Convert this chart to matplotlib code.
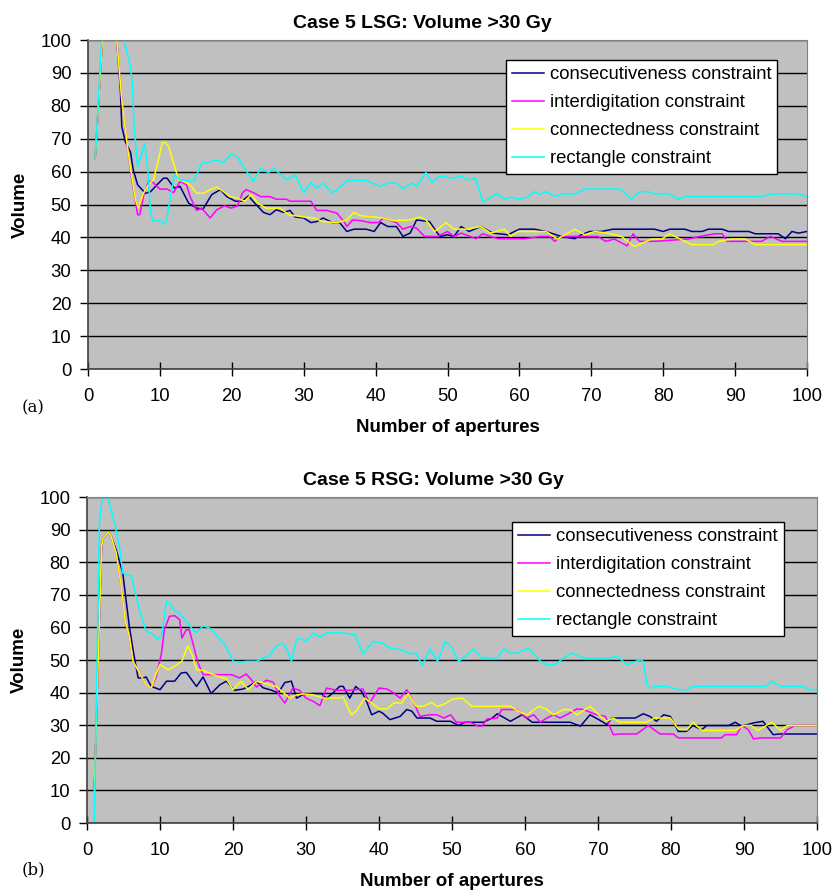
import matplotlib
matplotlib.use("Agg")
import matplotlib.pyplot as plt
from matplotlib.ticker import MultipleLocator

plt.rcParams['font.family'] = ['Liberation Sans', 'DejaVu Sans']

# ---------------- data: (a) Case 5 LSG ----------------
a_cons_x = [1, 2, 3, 4, 4.5, 4.7, 5.2, 5.9, 6.3, 6.9, 8, 8.7, 9.6, 10.5, 11, 12, 12.8, 13.3, 14, 15.1, 16,
            17.2, 18.4, 19.3, 20.5, 21.4, 22.3, 23.2, 24.4, 25.3, 26.2, 27.2, 28.1, 28.8, 30, 31, 31.8, 32.7,
            34, 35, 36, 37, 38.7, 39.8, 40.7, 41.7, 42.9, 43.8, 44.8, 45.7, 47.5, 48.6, 49, 50, 50.9, 51.9,
            53, 54.6, 56.3, 58.4, 60, 62.1, 63.7, 65.8, 67.7, 68.6, 69.8, 71.4, 73, 78.8, 80, 80.9, 83, 84,
            85.4, 86.3, 88.2, 89.1, 91.9, 92.8, 96, 97, 97.9, 98.8, 100]
a_cons_y = [64, 100, 100, 100, 85, 73.7, 69, 66, 60.5, 56, 53.4, 53.9, 56, 58, 58, 55, 55.5, 53.4, 50.4, 48.9,
            48.6, 53, 54.5, 52.4, 51, 51, 52.6, 50.4, 47.6, 46.9, 48.4, 47.6, 48.2, 46.2, 45.9, 44.5, 44.8,
            45.9, 44.5, 44.5, 41.8, 42.5, 42.5, 41.8, 44.5, 43.3, 43.3, 40.3, 41.3, 45.3, 44.8, 41.3, 40.3,
            40.8, 40.3, 43.3, 41.8, 43.3, 41.3, 40.8, 42.5, 42.5, 41.8, 40.3, 39.6, 40.8, 41.8, 41.8, 42.5,
            42.5, 41.8, 42.5, 42.5, 41.8, 41.8, 42.5, 42.5, 41.8, 41.8, 41.1, 41.1, 39.6, 41.8, 41.3, 41.8]

a_inter_x = [1, 2, 3, 4, 4.7, 5.4, 6.1, 6.9, 7.2, 7.7, 8.4, 8.9, 10, 11, 11.9, 12.8, 13.7, 14.2, 15.1, 15.8,
             17, 17.9, 19, 19.9, 20.8, 21.5, 22, 23, 24, 25.3, 26.2, 27.6, 28.1, 31, 31.8, 33.2, 34.6, 35.6,
             36, 36.8, 37.9, 39.3, 40.4, 41.1, 42.9, 43.8, 44.8, 45.7, 46.8, 48.6, 50, 50.9, 51.9, 54, 54.9,
             57, 59.1, 60.7, 63, 64.2, 64.9, 65.8, 70.9, 72, 73.2, 75, 75.8, 76.7, 78.8, 83.5, 85.1, 87.2,
             88.2, 88.9, 93.7, 94.9, 96.5, 100]
a_inter_y = [64, 100, 100, 100, 81.8, 68.6, 57.5, 46.9, 46.9, 52.4, 57, 57, 54.7, 54.7, 53.6, 57, 56, 52.4,
             48.2, 48.9, 45.9, 48.4, 49.6, 48.9, 49.6, 53.6, 54.5, 53.6, 52.4, 52.4, 51.6, 51.6, 51, 51, 48.2,
             48.2, 47.4, 44.8, 43.3, 45.3, 45.1, 44.5, 44.5, 45.9, 44.5, 42.5, 43.3, 42.8, 40.3, 40.3, 41.8,
             40.3, 41.3, 39.6, 41.1, 39.6, 39.6, 39.6, 40.3, 40.3, 38.8, 40.3, 40.3, 38.8, 39.5, 37.4, 41.1,
             38.8, 38.8, 39.5, 40.3, 41.1, 41.1, 38.8, 38.8, 40.3, 38.8, 38.8]

a_conn_x = [1, 2, 3, 4, 4.7, 5.6, 6.6, 7, 7.7, 8.4, 9.1, 9.8, 10.3, 10.7, 11.2, 11.9, 12.6, 13.3, 14.2, 15.1,
            16, 17, 17.9, 18.8, 19.7, 20.7, 21.8, 22.7, 23.6, 24.8, 26.7, 27.9, 30, 31.4, 32.7, 34.6, 36, 37,
            37.9, 39.8, 41.1, 42.4, 44.8, 46.2, 47, 48.2, 49.8, 50.9, 52.8, 54.6, 56, 57.9, 58.8, 59.8, 63.7,
            65.3, 67.7, 69.1, 70.5, 72.3, 74.2, 76, 78.4, 79.8, 80.9, 83, 84, 87, 87.7, 89.5, 91.4, 92.8, 100]
a_conn_y = [64, 100, 100, 100, 81.8, 65.6, 51.4, 48.9, 53.4, 56, 57.5, 63.6, 68.6, 69, 67.7, 62.6, 57.5, 57,
            56, 53.4, 53.4, 54.5, 55.3, 54, 52.4, 52, 51, 53, 50.4, 48.9, 48.9, 46.9, 46.2, 45.9, 44.8, 44.5,
            45.3, 47.6, 46.6, 46.2, 45.9, 45.1, 45.3, 46.2, 45.3, 41.8, 44.5, 42.5, 42.5, 43.3, 41.3, 42.5,
            40.3, 41.8, 41.8, 39.5, 42.5, 40.8, 41.8, 41.3, 40.3, 37.2, 39.5, 39.5, 41.1, 38.8, 37.8, 37.8,
            38.8, 39.5, 39.5, 37.8, 37.8]

a_rect_x = [1, 1.9, 3, 4, 5, 5.9, 6.2, 6.4, 6.9, 7.9, 8.2, 8.7, 9, 10, 10.7, 11, 12, 12.8, 14.7, 15.8, 17,
            17.9, 18.8, 19.9, 20.7, 23, 24, 25.1, 25.8, 27.6, 28.8, 30, 31, 31.8, 32.7, 33.9, 34.6, 36, 38.7,
            40.6, 41.7, 42.9, 43.8, 45, 45.7, 47, 47.8, 48.9, 50.9, 51.9, 52.8, 53.9, 54.9, 55.6, 56.9, 57.9,
            58.8, 60, 61.2, 62.1, 62.8, 63.7, 64.9, 65.8, 67.7, 69.1, 74, 75.6, 76.7, 77.9, 78.8, 80.9, 82.1,
            83, 93.7, 95.1, 98.8, 100]
a_rect_y = [64, 100, 100, 100, 100, 92, 86, 74, 61.5, 68.6, 63.6, 48, 45, 45, 44, 46.2, 59, 57.5, 57, 62.5,
            63, 63.5, 62.7, 65.4, 64.6, 57, 61, 59.7, 61, 57.5, 59, 53.6, 56.7, 55, 56.5, 53.6, 54.4, 57.3,
            57.3, 55.5, 56.5, 56.5, 54.8, 56.5, 55.5, 59.7, 56.7, 58.7, 58, 58.7, 57.5, 58, 50.9, 51.6, 53.4,
            51.6, 52.2, 51.6, 52.4, 53.9, 53.1, 53.9, 52.4, 53.2, 53.2, 54.7, 54.7, 51.6, 53.9, 53.9, 53.2,
            53.2, 51.6, 52.4, 52.4, 53.2, 53.2, 52.4]

# ---------------- data: (b) Case 5 RSG ----------------
b_cons_x = [1, 2, 2.2, 2.9, 3.3, 4, 4.5, 4.9, 5.4, 5.8, 6.3, 7, 7.7, 8.1, 8.8, 10, 10.9, 12, 12.9, 13.6, 15,
            15.9, 17, 18.2, 19.1, 20.2, 21.4, 22.3, 23.2, 24.1, 25.3, 26.2, 27.1, 28, 28.7, 29.6, 31, 32.1,
            32.8, 33.7, 34.6, 35.1, 36, 36.8, 37.6, 38.3, 39, 40, 40.5, 41.5, 42.9, 43.8, 44.5, 45.2, 47,
            47.9, 49.8, 50.9, 51.8, 54.3, 55.5, 56.2, 58, 59.6, 61, 66.2, 67.6, 68.9, 70.5, 71.2, 71.9, 75.1,
            76.2, 77.1, 78, 79, 79.9, 81, 82.1, 83, 84.2, 84.9, 87.9, 88.8, 89.7, 91.3, 92.6, 94, 94.9, 100]
b_cons_y = [10, 84.9, 87.4, 89.2, 88, 83.8, 79.8, 76.7, 67.5, 60.3, 53.2, 44.5, 44.5, 44.8, 41.9, 40.9, 43.5,
            43.5, 46, 46.2, 41.9, 44.8, 39.7, 42.4, 43.5, 40.7, 41.1, 42.1, 43.5, 41.5, 40.7, 39.9, 43.1,
            43.5, 38.3, 39.4, 39.7, 39.7, 38.3, 39.9, 41.9, 41.9, 38.3, 41.9, 40.4, 37.3, 33.2, 34.3, 33.7,
            31.7, 32.7, 34.8, 34.3, 32.2, 32.2, 31.2, 31.2, 29.9, 30.9, 30.9, 32.2, 33.5, 31.2, 33.2, 30.9,
            30.9, 29.7, 33.2, 31.2, 30.2, 32.2, 32.2, 33.5, 32.7, 31.2, 33.2, 32.7, 28.1, 28.1, 29.9, 28.6,
            29.9, 29.9, 30.9, 29.7, 30.7, 31.2, 27.1, 27.3, 27.3]

b_inter_x = [1, 2, 2.2, 2.9, 3.3, 4, 4.7, 5.2, 5.8, 6.3, 7.2, 8.1, 8.8, 9.5, 10.2, 10.6, 11.3, 12, 12.7, 13,
             13.6, 14, 14.5, 15.2, 15.9, 17.7, 19.8, 20.9, 21.8, 22.5, 23.2, 24.6, 25.5, 26.4, 27.1, 28.2,
             29.1, 30, 31, 31.9, 32.8, 34.2, 36, 37.8, 38.7, 40, 41.1, 42, 42.9, 43.8, 44.7, 45.6, 47, 47.9,
             48.9, 49.8, 50.6, 52.5, 53.6, 54.1, 54.8, 56.2, 56.8, 58.9, 59.6, 60.3, 61.2, 62.1, 63, 63.9,
             64.8, 65.7, 67.1, 68, 69.8, 71, 72.1, 73, 75.3, 76.9, 78.5, 80.3, 81, 86.9, 87.4, 89, 89.7, 90.6,
             91.3, 92.2, 95, 95.9, 97, 100]
b_inter_y = [10, 84.9, 87.4, 89.2, 88, 82.8, 72.6, 62.4, 57.3, 49.6, 46, 42.4, 41.4, 45, 52.1, 59.3, 63.4,
             63.6, 62.4, 56.7, 59.3, 59.3, 55.2, 49.1, 45.5, 45.5, 45.5, 44.5, 45.7, 44, 41.7, 43.8, 43.2,
             38.9, 36.8, 41.4, 40.7, 38.3, 37.3, 36, 41.4, 40.7, 40.7, 41.1, 36.8, 41.4, 41.1, 39.9, 38.3,
             40.9, 37.3, 32.7, 33.2, 33.2, 32.2, 33.2, 30.9, 30.9, 29.7, 29.7, 31.9, 32.2, 34.8, 34.8, 33.2,
             32.2, 33.2, 30.9, 32.2, 33.2, 32.2, 33.2, 35, 34.8, 33.2, 32.7, 27.1, 27.3, 27.3, 29.9, 27.3,
             27.3, 26.1, 26.1, 27.1, 27.1, 29.9, 28.6, 25.8, 26.1, 26.1, 28.6, 29.9, 29.9]

b_conn_x = [1, 2, 2.2, 2.9, 3.3, 4, 4.7, 5.2, 5.8, 6.3, 7.2, 8.1, 8.8, 9.5, 10, 11.1, 12, 13, 13.8, 14.5, 15,
            15.9, 17.3, 19.1, 20, 21.1, 22.1, 23.2, 25.9, 27.8, 28.7, 29.6, 31, 32.4, 34.2, 35.1, 36.2, 36.9,
            38, 39, 40, 41.1, 42, 43.1, 44, 45.1, 46.1, 47.2, 47.9, 48.8, 50.1, 51.4, 52.7, 58, 59.3, 60.3,
            61.9, 63, 63.9, 65.3, 66.2, 67.1, 68.9, 70.1, 71.2, 72.1, 73, 76.6, 77.8, 79.9, 81, 82.2, 83,
            84.2, 88.8, 89.9, 91, 91.9, 93.8, 95, 95.9, 100]
b_conn_y = [10, 84.9, 87.4, 89.2, 88, 82.8, 72.6, 62.4, 57.3, 49.6, 46, 42.4, 41.4, 46, 48.6, 47, 48.1, 49.6,
            54.4, 51.1, 47, 46.8, 45.5, 44.2, 40.9, 43.5, 40.9, 43.5, 41.9, 38.3, 39.3, 39.6, 39.3, 38.3, 38.3,
            38.6, 33.2, 34.3, 38.3, 36.8, 35, 35, 36.8, 36.8, 39.7, 35.8, 35.8, 37, 35.8, 36.3, 38, 38.3,
            35.8, 35.8, 34, 33.2, 35.8, 34.8, 33.2, 34.8, 34.8, 33.2, 35.8, 33.2, 31.2, 32.2, 30.9, 30.9,
            32.2, 32.2, 28.8, 28.6, 30.9, 28.4, 28.4, 29.9, 29.9, 28.4, 30.9, 28.4, 29.9, 29.9]

b_rect_x = [1, 1.7, 2.1, 2.9, 3.1, 3.8, 4.5, 4.9, 5.4, 6.1, 6.5, 7.2, 8.1, 9, 9.7, 10.2, 10.9, 11.3, 12, 12.7,
            13.6, 14.5, 15, 15.9, 16.8, 17.7, 18.9, 20, 20.9, 21.8, 23.2, 24.1, 25, 25.9, 26.8, 27.3, 28,
            28.7, 29, 30, 31, 31.9, 32.8, 35, 36.7, 37.8, 39.2, 40.5, 41.5, 42.9, 44.2, 45.1, 45.9, 47, 48,
            49.1, 50, 50.9, 51.8, 53, 54.1, 56.2, 57.1, 58, 58.9, 60.5, 62.1, 63, 64.1, 65.3, 66.4, 68, 71.7,
            72.6, 74, 75.8, 76.2, 76.7, 77.1, 78, 79.5, 81, 82.2, 82.9, 92.9, 93.8, 95, 98, 99.1, 100]
b_rect_y = [0, 92, 100, 100, 97.6, 92, 83.8, 76.7, 76.2, 75.7, 71.6, 65.4, 58.8, 58, 56.4, 57.3, 68, 67.5, 65,
            64.4, 61.9, 59.3, 58.3, 60.5, 59.8, 57.8, 54.7, 49.6, 49.3, 49.6, 49.6, 50.6, 51.3, 54.2, 55,
            53.7, 49.6, 56.2, 56.7, 55.9, 58.3, 57, 58.3, 58.3, 57.8, 51.9, 55.7, 55.2, 53.7, 53.2, 51.9,
            52.1, 48.3, 53.4, 49.6, 55.7, 53.7, 49.6, 51.1, 53.4, 50.6, 50.6, 53.4, 52.1, 52.1, 53.7, 49.6,
            48.6, 48.6, 50.6, 52.1, 50.6, 50.6, 51.1, 48.6, 50.1, 49.6, 42.9, 41.4, 41.9, 41.9, 40.9, 40.9,
            41.9, 41.9, 43.5, 41.9, 41.9, 40.9, 40.9]

labels = ['consecutiveness constraint', 'interdigitation constraint',
          'connectedness constraint', 'rectangle constraint']
colors = ['#000080', '#FF00FF', '#FFFF00', '#00FFFF']

panels = [
    dict(title='Case 5 LSG: Volume >30 Gy', tag='(a)',
         series=[(a_cons_x, a_cons_y), (a_inter_x, a_inter_y), (a_conn_x, a_conn_y), (a_rect_x, a_rect_y)],
         rect=[88 / 834, 1 - 369 / 896, 719 / 834, 329 / 896],
         leg=(0.581, 0.939), title_x=0.4645, tag_y=1 - 408 / 896),
    dict(title='Case 5 RSG: Volume >30 Gy', tag='(b)',
         series=[(b_cons_x, b_cons_y), (b_inter_x, b_inter_y), (b_conn_x, b_conn_y), (b_rect_x, b_rect_y)],
         rect=[87 / 834, 1 - 823 / 896, 730 / 834, 326 / 896],
         leg=(0.582, 0.923), title_x=0.474, tag_y=1 - 870 / 896),
]

fig = plt.figure(figsize=(8.34, 8.96), dpi=100)

for p in panels:
    ax = fig.add_axes(p['rect'])
    ax.set_facecolor('#C0C0C0')
    for (xs, ys), lab, col in zip(p['series'], labels, colors):
        ax.plot(xs, ys, color=col, lw=1.1, label=lab)
    ax.set_xlim(0, 100)
    ax.set_ylim(0, 100)
    ax.xaxis.set_major_locator(MultipleLocator(10))
    ax.yaxis.set_major_locator(MultipleLocator(10))
    ax.grid(axis='y', color='black', lw=1.0)
    ax.set_axisbelow(True)
    for s in ['top', 'right']:
        ax.spines[s].set_color('#808080')
    for s in ['left', 'bottom']:
        ax.spines[s].set_color('#404040')
        ax.spines[s].set_linewidth(1.2)
    ax.tick_params(axis='x', direction='inout', length=10, width=1, pad=9, labelsize=13.3)
    ax.tick_params(axis='y', direction='out', length=6, width=1, pad=6, labelsize=13.3)
    ax.set_title(p['title'], x=p['title_x'], fontsize=14, fontweight='bold', pad=9)
    ax.set_xlabel('Number of apertures', fontsize=13.5, fontweight='bold', labelpad=10)
    ax.set_ylabel('Volume', fontsize=13.5, fontweight='bold', labelpad=8)
    leg = ax.legend(loc='upper left', bbox_to_anchor=p['leg'], borderaxespad=0, fontsize=13.3,
                    frameon=True, fancybox=False, edgecolor='black', framealpha=1, handlelength=1.75,
                    labelspacing=0.6, borderpad=0.33, handletextpad=0.3)
    leg.get_frame().set_linewidth(1.0)
    fig.text(22 / 834, p['tag_y'], p['tag'], family='DejaVu Serif', fontsize=12, va='center')

fig.savefig('out.png', dpi=100)
